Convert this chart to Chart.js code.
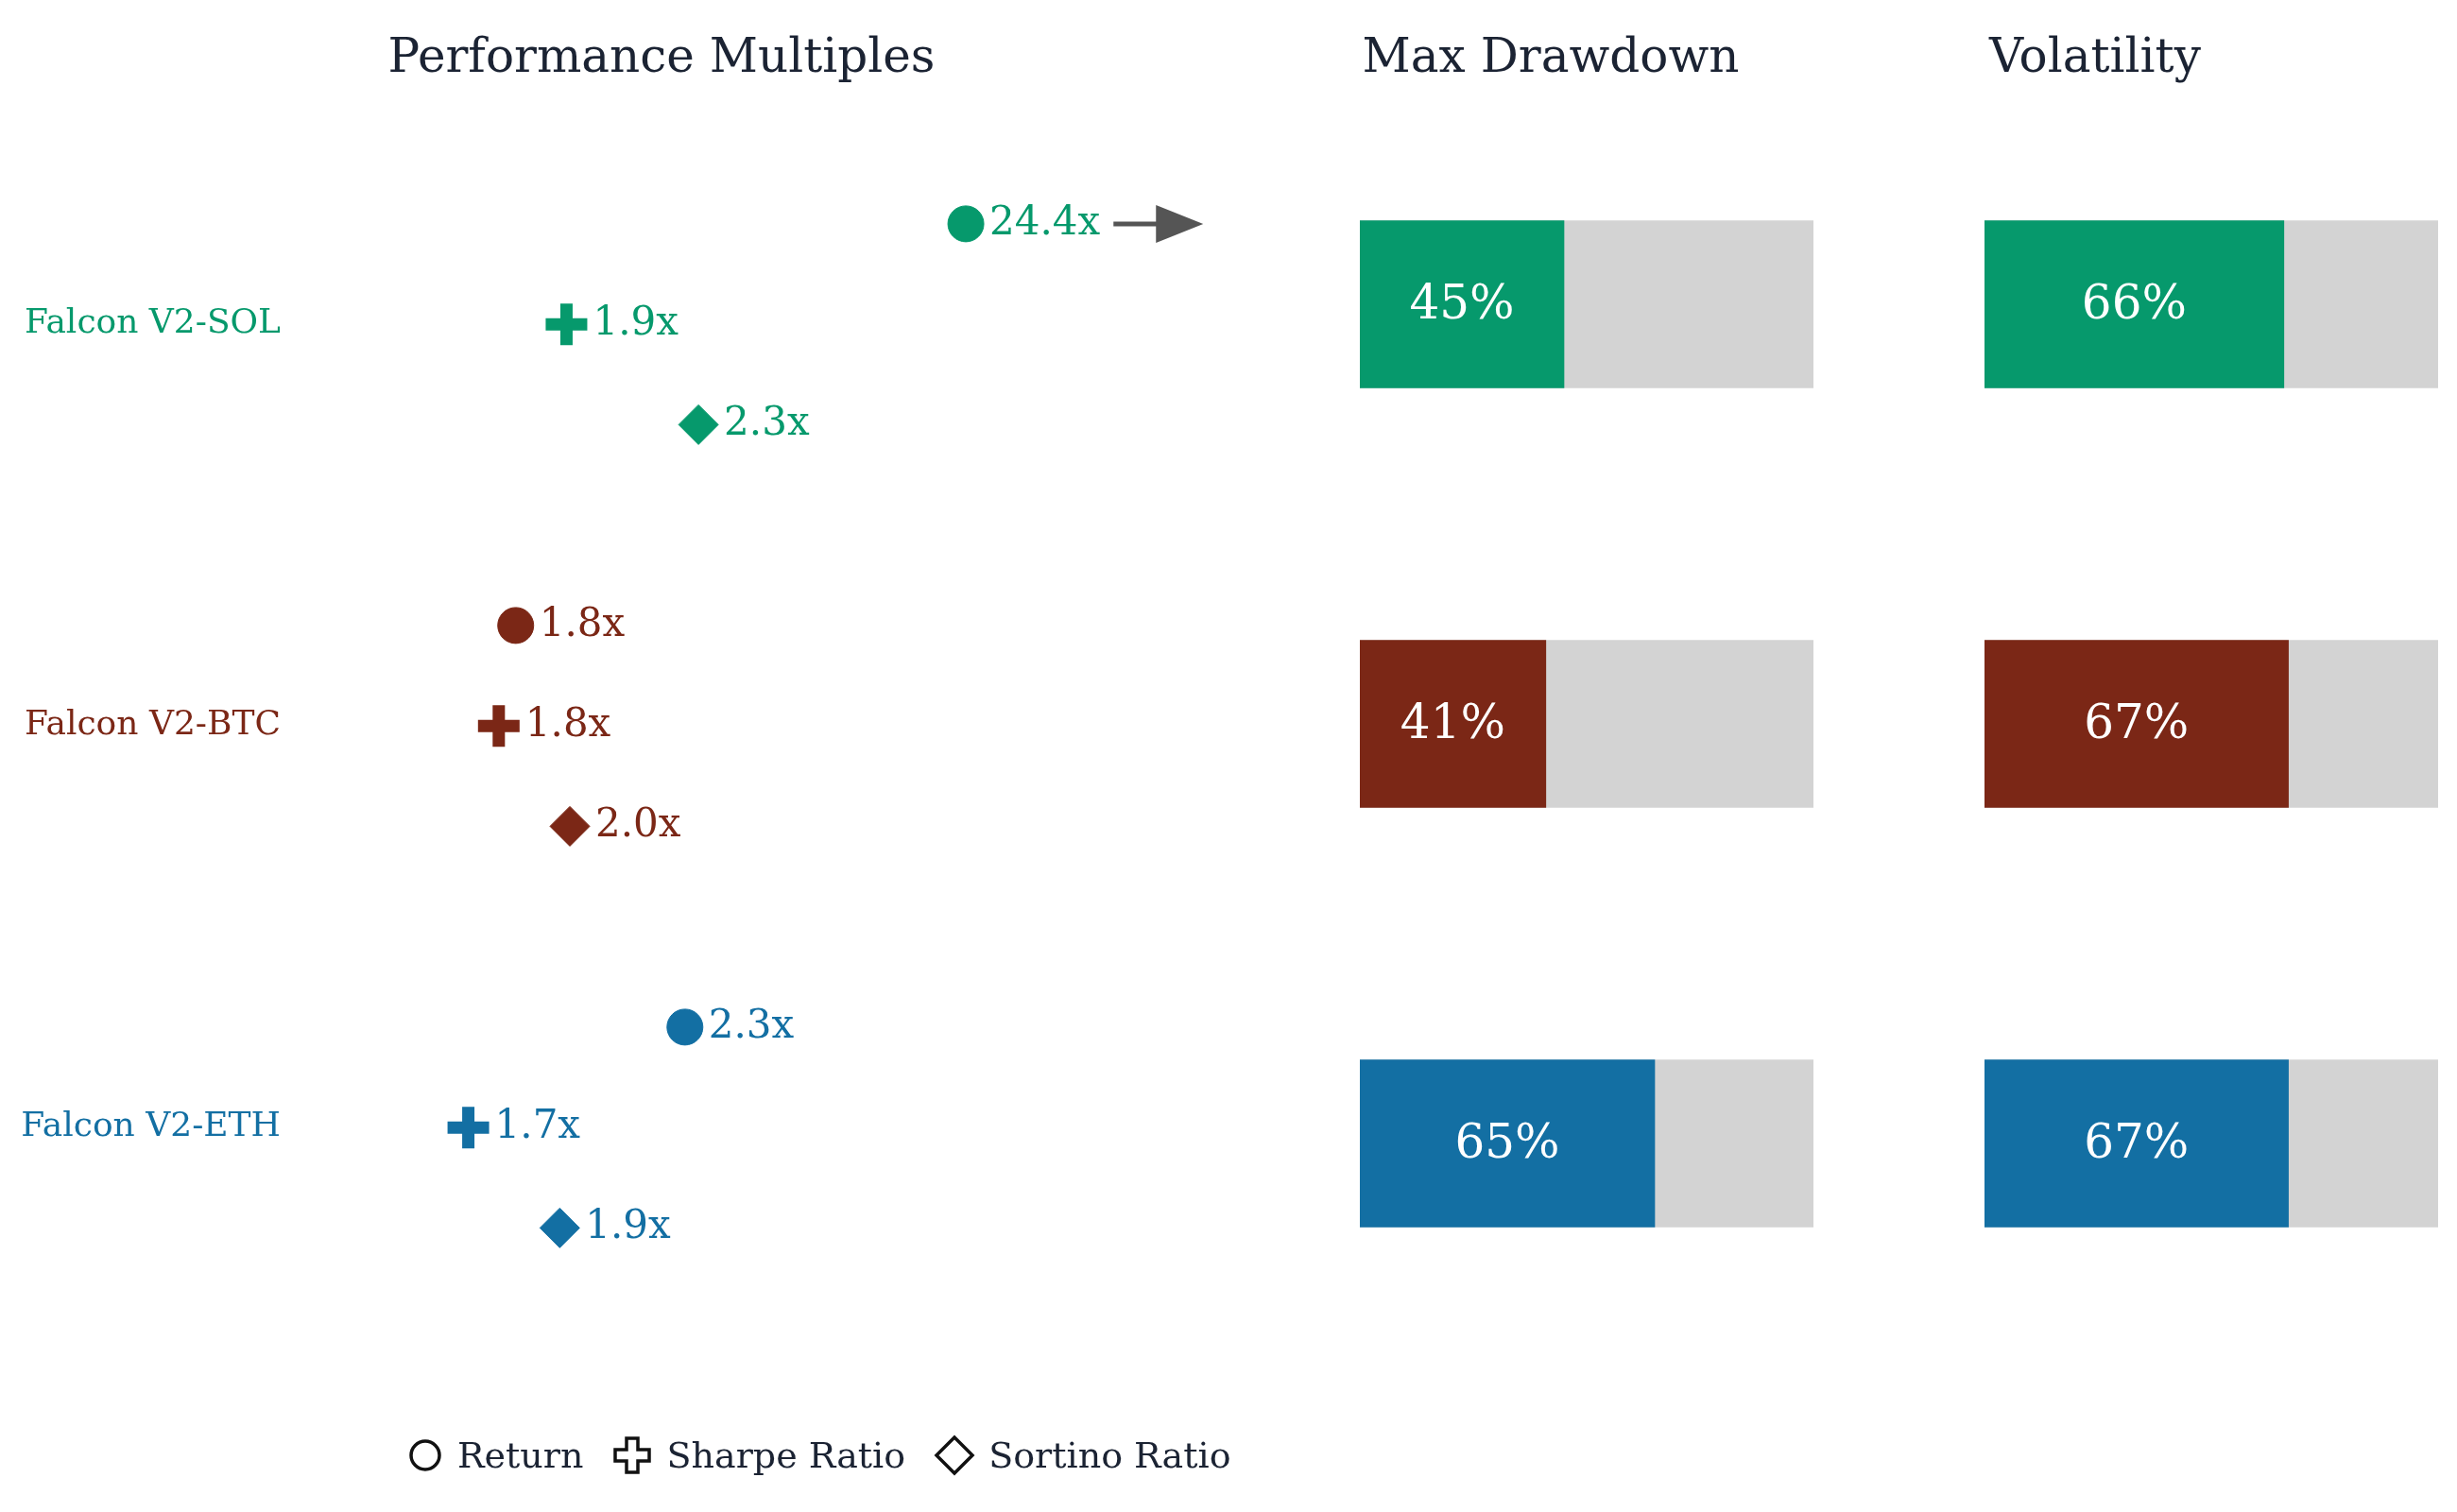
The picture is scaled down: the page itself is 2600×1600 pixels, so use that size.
<!DOCTYPE html>
<html>
<head>
<meta charset="utf-8">
<script src="https://cdn.jsdelivr.net/npm/chart.js@4/dist/chart.umd.min.js"></script>
<style>
  body { margin: 0; width: 2600px; height: 1600px; background: #fff; position: relative; overflow: hidden; font-family: "DejaVu Serif", serif; }
  .title { position: absolute; top: 30px; font-size: 50px; color: #1b2333; transform: translateX(-50%); white-space: nowrap; }
  .box { position: absolute; }
  #legend { position: absolute; top: 1518px; left: 430px; font-size: 38px; color: #1b2333; display: flex; align-items: center; white-space: nowrap; }
  #legend svg { margin-right: 14px; }
  #legend span { margin-right: 30px; }
</style>
</head>
<body>
<div class="title" style="left:700px">Performance Multiples</div>
<div class="title" style="left:1641px">Max Drawdown</div>
<div class="title" style="left:2217px">Volatility</div>

<div class="box" style="left:0;top:0;width:1340px;height:1600px"><canvas id="perf"></canvas></div>
<div class="box" style="left:1439px;top:100px;width:480px;height:1332px"><canvas id="dd"></canvas></div>
<div class="box" style="left:2100px;top:100px;width:480px;height:1332px"><canvas id="vol"></canvas></div>

<div id="legend">
  <svg width="40" height="40" viewBox="0 0 40 40"><circle cx="20" cy="20" r="15" fill="none" stroke="#111" stroke-width="3.5"/></svg><span>Return</span>
  <svg width="44" height="44" viewBox="0 0 44 44"><path d="M16 4h12v12h12v12h-12v12h-12v-12h-12v-12h12z" fill="none" stroke="#111" stroke-width="3.5"/></svg><span>Sharpe Ratio</span>
  <svg width="44" height="44" viewBox="0 0 44 44"><path d="M22 3l19 19-19 19-19-19z" fill="none" stroke="#111" stroke-width="3.5"/></svg><span>Sortino Ratio</span>
</div>

<script>
const strategies = ['Falcon V2-SOL', 'Falcon V2-BTC', 'Falcon V2-ETH'];
const colors = ['#06996c', '#7b2716', '#136fa3'];
const returnValues = [24.4, 1.8, 2.3];
const sharpeValues = [1.95, 1.75, 1.66];
const sortinoValues = [2.34, 1.96, 1.93];
const maxDrawdown = [45, 41, 65];
const volatility = [66, 67, 67];

const FONT = '"DejaVu Serif", serif';
const X_MIN = 0.374, X_MAX = 3.92, CLIP = 3.13;
const rowCenter = i => 1 + i * 4;

function metricSet(name, values, offset, style, radius, bw) {
  return {
    label: name,
    data: values.map((v, i) => ({ x: Math.min(v, CLIP), y: rowCenter(i) + offset, raw: v, clipped: v > CLIP })),
    pointStyle: style,
    pointRadius: radius,
    pointHoverRadius: radius,
    pointBackgroundColor: colors,
    pointBorderColor: colors,
    pointBorderWidth: bw,
    showLine: false
  };
}

const perfLabels = {
  id: 'perfLabels',
  afterDatasetsDraw(chart) {
    const ctx = chart.ctx;
    const ys = chart.scales.y;
    ctx.save();
    ctx.font = '36px ' + FONT;
    ctx.textAlign = 'right';
    ctx.textBaseline = 'middle';
    strategies.forEach((s, i) => {
      ctx.fillStyle = colors[i];
      ctx.fillText(s, 297, ys.getPixelForValue(rowCenter(i)));
    });
    ctx.font = '42px ' + FONT;
    ctx.textAlign = 'left';
    chart.data.datasets.forEach((ds, di) => {
      const meta = chart.getDatasetMeta(di);
      meta.data.forEach((pt, i) => {
        const d = ds.data[i];
        const txt = d.raw.toFixed(1) + 'x';
        const x0 = pt.x + ds.pointRadius + 6;
        ctx.fillStyle = colors[i];
        ctx.fillText(txt, x0, pt.y);
        if (d.clipped) {
          const ax = x0 + ctx.measureText(txt).width + 14;
          ctx.strokeStyle = '#555';
          ctx.fillStyle = '#555';
          ctx.lineWidth = 5;
          ctx.beginPath(); ctx.moveTo(ax, pt.y); ctx.lineTo(ax + 50, pt.y); ctx.stroke();
          ctx.beginPath(); ctx.moveTo(ax + 45, pt.y - 20); ctx.lineTo(ax + 95, pt.y); ctx.lineTo(ax + 45, pt.y + 20); ctx.closePath(); ctx.fill();
        }
      });
    });
    ctx.restore();
  }
};

new Chart(document.getElementById('perf'), {
  type: 'scatter',
  data: {
    datasets: [
      metricSet('Return', returnValues, -1, 'circle', 19, 1),
      metricSet('Sharpe Ratio', sharpeValues, 0, 'cross', 22, 13),
      metricSet('Sortino Ratio', sortinoValues, 1, 'rectRot', 21, 1)
    ]
  },
  options: {
    responsive: true, maintainAspectRatio: false, animation: false,
    layout: { padding: 0 },
    plugins: { legend: { display: false }, tooltip: { enabled: false } },
    scales: {
      x: { display: false, min: X_MIN, max: X_MAX },
      y: { display: false, min: -1.9, max: 12.5, reverse: true }
    }
  },
  plugins: [perfLabels]
});

const barLabels = {
  id: 'barLabels',
  afterDatasetsDraw(chart) {
    const ctx = chart.ctx;
    const meta = chart.getDatasetMeta(1);
    const vals = chart.data.datasets[1].data;
    ctx.save();
    ctx.font = '50px ' + FONT;
    ctx.fillStyle = '#fff';
    ctx.textAlign = 'center';
    ctx.textBaseline = 'middle';
    meta.data.forEach((bar, i) => {
      ctx.fillText(vals[i] + '%', (bar.base + bar.x) / 2, bar.y + 2);
    });
    ctx.restore();
  }
};

function barPanel(id, values) {
  new Chart(document.getElementById(id), {
    type: 'bar',
    data: {
      labels: strategies,
      datasets: [
        { data: strategies.map(() => 100), backgroundColor: '#d3d3d3', grouped: false, barThickness: 177, order: 2 },
        { data: values, backgroundColor: colors, grouped: false, barThickness: 177, order: 1 }
      ]
    },
    options: {
      indexAxis: 'y',
      responsive: true, maintainAspectRatio: false, animation: false,
      layout: { padding: 0 },
      plugins: { legend: { display: false }, tooltip: { enabled: false } },
      scales: {
        x: { display: false, min: 0, max: 100 },
        y: { display: false }
      }
    },
    plugins: [barLabels]
  });
}

barPanel('dd', maxDrawdown);
barPanel('vol', volatility);
</script>
</body>
</html>
